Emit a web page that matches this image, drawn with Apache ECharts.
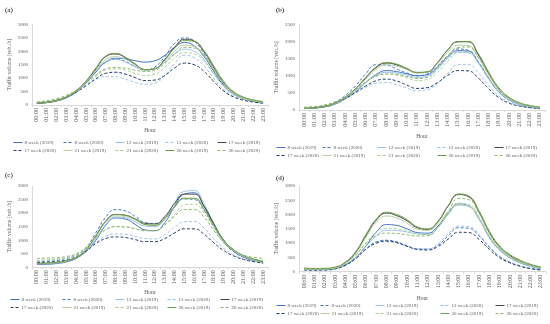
<!DOCTYPE html>
<html><head><meta charset="utf-8">
<script src="https://cdn.jsdelivr.net/npm/echarts@6/dist/echarts.min.js"></script>
<style>html,body{margin:0;padding:0;background:#fff}#c{width:550px;height:324px}</style>
</head><body><div id="c"></div>
<script>
const hours = ['00:00','01:00','02:00','03:00','04:00','05:00','06:00','07:00','08:00','09:00','10:00','11:00','12:00','13:00','14:00','15:00','16:00','17:00','18:00','19:00','20:00','21:00','22:00','23:00'];
const seriesNames = ['8 week (2019)','8 week (2020)','12 week (2019)','12 week (2020)','17 week (2019)','17 week (2020)','21 week (2019)','21 week (2020)','26 week (2019)','26 week (2020)'];
const panelLabels = ['(a)','(b)','(c)','(d)'];
const yMax = [3000, 2500, 3000, 3000];

// Panel (a)
const A_8w19 = [60,90,150,270,480,820,1230,1600,1740,1720,1650,1600,1650,1850,2150,2330,2200,1800,1250,750,420,250,150,90];
const A_8w20 = [80,110,180,310,530,880,1300,1600,1700,1620,1430,1300,1420,1800,2300,2500,2380,1900,1250,720,400,230,130,70];
const A_12w19 = [70,100,160,290,500,850,1270,1620,1700,1600,1420,1300,1350,1600,1900,2080,2000,1680,1150,700,400,240,150,90];
const A_12w20 = [90,120,190,300,480,720,950,1060,1050,960,840,770,820,1100,1550,1850,1760,1450,980,580,330,200,120,80];
const A_17w19 = [60,90,160,290,520,880,1350,1800,1900,1760,1520,1320,1360,1700,2150,2450,2380,1980,1380,820,460,270,170,110];
const A_17w20 = [80,110,180,300,480,720,980,1180,1220,1150,1020,910,930,1100,1380,1560,1500,1250,870,520,300,180,110,70];
const A_21w19 = [70,100,170,300,520,870,1300,1700,1800,1700,1480,1320,1360,1650,2000,2230,2180,1850,1300,790,450,270,170,110];
const A_21w20 = [100,140,210,330,520,780,1070,1300,1350,1300,1180,1100,1150,1400,1750,1950,1900,1620,1150,700,400,240,150,100];
const A_26w19 = [80,110,180,310,540,900,1380,1820,1920,1780,1530,1320,1350,1680,2120,2400,2370,2020,1450,880,500,300,190,130];
const A_26w20 = [110,160,240,370,560,830,1120,1350,1400,1370,1300,1250,1300,1550,1900,2150,2120,1820,1300,800,460,280,180,120];

// Panel (b)
const B_8w19 = [40,55,90,170,320,530,800,1030,1150,1120,1060,1000,1030,1250,1550,1730,1720,1400,930,530,300,170,100,60];
const B_8w20 = [60,80,130,230,420,700,1050,1320,1310,1200,1080,1000,1050,1280,1580,1780,1740,1400,920,520,290,160,90,50];
const B_12w19 = [50,65,100,180,330,540,810,1000,1100,1080,1020,950,990,1200,1500,1690,1670,1360,910,520,290,165,95,55];
const B_12w20 = [70,85,125,200,330,490,660,780,800,740,640,560,590,770,1070,1320,1330,1080,720,410,230,130,75,45];
const B_17w19 = [45,60,100,190,360,600,930,1230,1370,1320,1200,1090,1110,1380,1750,1990,1990,1600,1070,610,340,195,120,75];
const B_17w20 = [70,85,125,210,340,510,700,850,900,850,730,630,650,800,1010,1150,1140,930,620,360,200,115,70,40];
const B_21w19 = [50,65,105,190,360,590,900,1180,1320,1280,1180,1080,1100,1350,1680,1890,1880,1530,1030,590,330,190,115,70];
const B_21w20 = [70,90,135,220,370,570,810,990,1050,1020,940,860,890,1100,1420,1670,1690,1400,950,560,320,185,110,65];
const B_26w19 = [60,75,115,200,380,620,950,1250,1380,1340,1220,1100,1110,1380,1750,1990,2000,1640,1110,650,370,215,135,85];
const B_26w20 = [80,100,145,230,380,580,810,980,1050,1040,980,920,950,1200,1560,1820,1840,1530,1050,630,360,210,130,80];

// Panel (c)
const C_8w19 = [100,110,140,200,330,590,1000,1550,1820,1780,1580,1380,1350,1650,2250,2700,2750,2250,1550,950,600,380,250,160];
const C_8w20 = [200,220,260,330,450,720,1280,1850,2130,2080,1880,1650,1620,1820,2250,2520,2500,2100,1480,930,580,380,260,180];
const C_12w19 = [120,130,160,220,340,590,1050,1580,1850,1820,1680,1520,1500,1800,2400,2800,2830,2330,1620,1000,640,410,270,170];
const C_12w20 = [220,240,270,320,420,630,920,1150,1230,1220,1140,1060,1050,1200,1480,1680,1690,1450,1050,700,460,320,230,180];
const C_17w19 = [130,140,170,230,350,630,1150,1700,1950,1920,1780,1620,1600,1870,2350,2700,2700,2250,1600,1000,640,420,290,200];
const C_17w20 = [180,190,220,270,380,590,880,1060,1120,1100,1020,950,950,1060,1270,1420,1420,1220,900,620,420,290,210,160];
const C_21w19 = [130,140,170,230,360,640,1130,1660,1900,1870,1750,1590,1560,1790,2230,2530,2530,2130,1520,960,620,410,280,190];
const C_21w20 = [260,280,310,360,470,710,1090,1380,1500,1490,1420,1350,1350,1570,1950,2300,2330,2000,1450,950,620,420,310,250];
const C_26w19 = [150,160,190,250,380,660,1180,1700,1950,1920,1780,1580,1550,1790,2230,2550,2550,2150,1550,990,650,440,310,220];
const C_26w20 = [330,340,360,400,500,740,1110,1390,1500,1490,1420,1350,1350,1560,1880,2130,2130,1850,1350,900,620,450,370,330];

// Panel (d)
const D_8w19 = [80,70,75,110,240,490,900,1380,1650,1620,1500,1370,1350,1600,2050,2370,2300,1850,1200,760,490,310,190,100];
const D_8w20 = [60,55,60,95,220,450,790,1040,1100,1040,910,800,790,930,1250,1540,1520,1250,850,530,330,200,110,60];
const D_12w19 = [90,80,85,120,260,510,880,1250,1450,1440,1390,1320,1300,1550,2000,2330,2280,1820,1200,760,490,320,200,110];
const D_12w20 = [70,60,65,105,230,460,780,990,1050,1000,890,800,800,980,1330,1600,1580,1300,880,550,340,210,120,70];
const D_17w19 = [110,95,100,140,310,670,1250,1800,2050,1960,1780,1540,1480,1750,2300,2700,2620,2080,1370,860,560,360,230,140];
const D_17w20 = [70,60,65,105,230,460,790,1000,1070,1020,890,780,760,880,1140,1380,1370,1130,780,490,310,190,110,60];
const D_21w19 = [100,90,95,130,290,640,1200,1730,1950,1880,1700,1490,1450,1680,2100,2350,2300,1850,1250,800,520,340,220,130];
const D_21w20 = [90,85,90,130,290,580,1000,1370,1520,1500,1440,1330,1300,1550,2050,2400,2350,1930,1300,820,520,330,210,120];
const D_26w19 = [130,115,120,160,340,700,1300,1840,2080,2000,1820,1570,1500,1770,2320,2720,2650,2120,1420,900,600,400,260,170];
const D_26w20 = [110,95,100,140,310,590,990,1260,1350,1340,1290,1250,1260,1550,2100,2560,2520,2050,1380,870,560,360,230,130];

const panelData = [
  [A_8w19,A_8w20,A_12w19,A_12w20,A_17w19,A_17w20,A_21w19,A_21w20,A_26w19,A_26w20],
  [B_8w19,B_8w20,B_12w19,B_12w20,B_17w19,B_17w20,B_21w19,B_21w20,B_26w19,B_26w20],
  [C_8w19,C_8w20,C_12w19,C_12w20,C_17w19,C_17w20,C_21w19,C_21w20,C_26w19,C_26w20],
  [D_8w19,D_8w20,D_12w19,D_12w20,D_17w19,D_17w20,D_21w19,D_21w20,D_26w19,D_26w20]
];

// styling
const colors = ['#4472C4','#4472C4','#9DC3E6','#9DC3E6','#3F4A3A','#1F3864','#B7CCA6','#A9D18E','#6E9A48','#8DB56A'];
const dashed = [false,true,false,true,false,true,false,true,false,true];
const FONT = 'Liberation Serif';
const grids = [
  {left:32, top:24.5, width:236, height:80.5},
  {left:299, top:24.3, width:246, height:85.7},
  {left:32, top:186, width:236, height:81.3},
  {left:299, top:186, width:247, height:85.7}
];
const xNameGap = [23, 24, 22, 24];
const legendCols = [[13,63,115,165,217],[276,322,377,437,494],[10,62,115,167,220],[276,320,375,440,495]];
const legendTop = [140, 145, 297, 303];
const labelPos = [[5,7],[276,7],[5,172],[276,175]];

const option = {
  animation:false,
  textStyle:{fontFamily:FONT},
  grid: grids,
  xAxis: grids.map((g,p)=>({
    type:'category', gridIndex:p, data:hours, boundaryGap:true,
    name:'Hour', nameLocation:'middle', nameGap:xNameGap[p],
    nameTextStyle:{fontSize:5.5, color:'#595959', fontFamily:FONT},
    axisLine:{lineStyle:{color:'#D9D9D9', width:1}},
    axisTick:{show:true, length:2, lineStyle:{color:'#D9D9D9'}},
    axisLabel:{rotate:90, fontSize:6, color:'#595959', margin:3, fontFamily:FONT, interval:0}
  })),
  yAxis: grids.map((g,p)=>({
    type:'value', gridIndex:p, min:0, max:yMax[p], interval:500,
    name:'Traffic volume [veh./h]', nameLocation:'middle', nameGap:19, nameRotate:90,
    nameTextStyle:{fontSize:5.5, color:'#595959', fontFamily:FONT},
    axisLine:{show:true, lineStyle:{color:'#D9D9D9', width:1}},
    axisTick:{show:false},
    splitLine:{show:false},
    axisLabel:{fontSize:5, color:'#595959', margin:4, fontFamily:FONT, formatter:(v)=>String(v)}
  })),
  legend: [],
  graphic: panelLabels.map((t,p)=>({type:'text', left:labelPos[p][0], top:labelPos[p][1],
    style:{text:t, font:'7px "Liberation Serif"', fill:'#000'}})),
  series: []
};
for (let p=0;p<4;p++){
  for (let c=0;c<5;c++){
    option.legend.push({
      left:legendCols[p][c], top:legendTop[p], orient:'vertical',
      itemWidth:9, itemHeight:4, itemGap:3, padding:0,
      itemStyle:{opacity:0},
      lineStyle:{width:1},
      data:[seriesNames[c], seriesNames[c+5]],
      textStyle:{fontSize:5, color:'#595959', fontFamily:FONT, padding:[0,0,0,-3]}
    });
  }
  for (let i=0;i<10;i++){
    option.series.push({
      type:'line', name:seriesNames[i], xAxisIndex:p, yAxisIndex:p,
      data:panelData[p][i], smooth:true, symbol:'none',
      color:colors[i],
      lineStyle:{width:1, color:colors[i], type: dashed[i]?[3,2]:'solid'}
    });
  }
}
const chart = echarts.init(document.getElementById('c'), null, {renderer:'canvas'});
chart.setOption(option);
</script></body></html>
